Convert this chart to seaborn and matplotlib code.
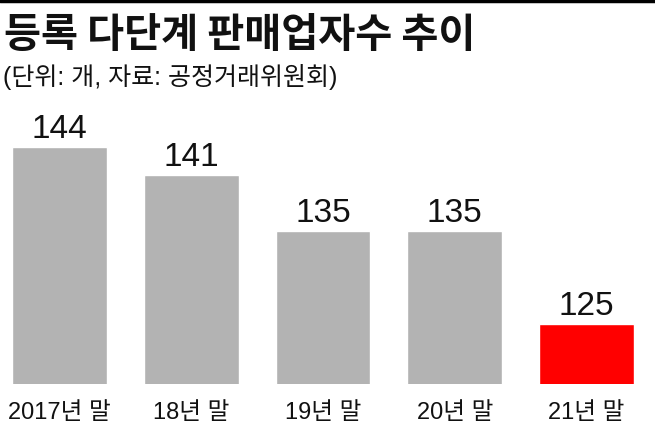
import matplotlib
matplotlib.use("Agg")
import matplotlib.pyplot as plt
import seaborn as sns
from matplotlib import font_manager
from matplotlib.lines import Line2D

sns.set_theme(style="white")

# fonts: narrow latin for the digits, CJK for the hangul
names = set(f.name for f in font_manager.fontManager.ttflist)
narrow = 'Liberation Sans Narrow' if 'Liberation Sans Narrow' in names else 'Liberation Sans'
plt.rcParams['font.family'] = [narrow, 'Noto Sans CJK KR', 'DejaVu Sans']

title = '등록 다단계 판매업자수 추이'
subtitle = '(단위: 개, 자료: 공정거래위원회)'
years = ['2017년 말', '18년 말', '19년 말', '20년 말', '21년 말']
counts = [144, 141, 135, 135, 125]
colors = ['#B3B3B3', '#B3B3B3', '#B3B3B3', '#B3B3B3', '#FF0000']

fig = plt.figure(figsize=(6.55, 4.27), dpi=100)
ax = fig.add_axes([0, 42 / 427, 1, 285 / 427])

sns.barplot(x=years, y=counts, hue=years, palette=colors, legend=False,
            width=0.72, saturation=1, ax=ax)

ax.set_xlim(-59.5 / 131.75, (655 - 59.5) / 131.75)
ax.set_ylim(118.56, 149.15)
for c in ax.containers:
    ax.bar_label(c, fmt='%d', padding=2, fontsize=24, color='#111111')

ax.set_yticks([])
ax.tick_params(axis='x', length=0, pad=12, labelsize=17, colors='#111111')
ax.set_xlabel('')
ax.set_ylabel('')
sns.despine(ax=ax, left=True, bottom=True)

fig.text(0.006, 1 - 15 / 427, title, fontsize=29, fontweight='bold',
         family=['Noto Sans CJK KR', 'DejaVu Sans'], va='top', ha='left', color='#111111')
fig.text(0.004, 1 - 64 / 427, subtitle, fontsize=18,
         family=[narrow, 'Noto Sans CJK KR', 'DejaVu Sans'], va='top', ha='left', color='#111111')

# thick rule at the very top
fig.add_artist(Line2D([0, 1], [1 - 1.5 / 427, 1 - 1.5 / 427], transform=fig.transFigure,
                      color='black', linewidth=2.5))

fig.savefig('out.png', dpi=100, facecolor='white')
